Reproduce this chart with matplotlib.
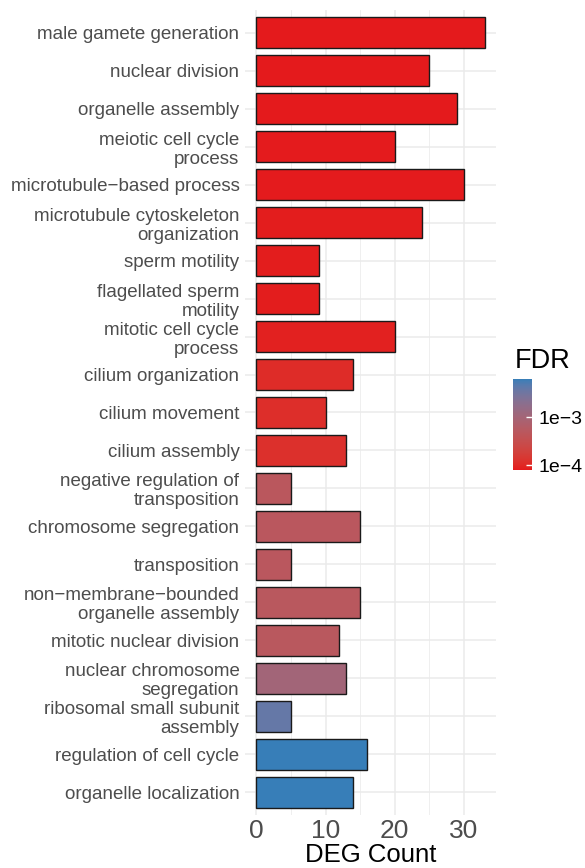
import numpy as np
import matplotlib
matplotlib.use("Agg")
import matplotlib.pyplot as plt
from matplotlib.colors import ListedColormap, LogNorm
import matplotlib.ticker as mticker

plt.rcParams['font.family'] = ['Liberation Sans', 'DejaVu Sans']

terms = [
    "male gamete generation",
    "nuclear division",
    "organelle assembly",
    "meiotic cell cycle\nprocess",
    "microtubule\u2212based process",
    "microtubule cytoskeleton\norganization",
    "sperm motility",
    "flagellated sperm\nmotility",
    "mitotic cell cycle\nprocess",
    "cilium organization",
    "cilium movement",
    "cilium assembly",
    "negative regulation of\ntransposition",
    "chromosome segregation",
    "transposition",
    "non\u2212membrane\u2212bounded\norganelle assembly",
    "mitotic nuclear division",
    "nuclear chromosome\nsegregation",
    "ribosomal small subunit\nassembly",
    "regulation of cell cycle",
    "organelle localization",
]
counts = [33, 25, 29, 20, 30, 24, 9, 9, 20, 14, 10, 13, 5, 15, 5, 15, 12, 13, 5, 16, 14]
fdr = [8.0e-5, 8.0e-5, 8.1e-5, 8.2e-5, 8.2e-5, 8.3e-5, 8.3e-5, 8.4e-5, 9.0e-5,
       1.1e-4, 1.15e-4, 1.2e-4, 4.8e-4, 4.9e-4, 4.9e-4, 5.0e-4, 5.0e-4,
       1.05e-3, 3.8e-3, 6.1e-3, 6.2e-3]

low_col = "#E41A1C"
high_col = "#377EB8"

# ---- Lab interpolation (like scales::seq_gradient_pal) ----
def hex2rgb(h):
    h = h.lstrip('#')
    return np.array([int(h[i:i+2], 16) / 255 for i in (0, 2, 4)])

def srgb2lin(c):
    return np.where(c <= 0.04045, c / 12.92, ((c + 0.055) / 1.055) ** 2.4)

def lin2srgb(c):
    c = np.clip(c, 0, 1)
    return np.where(c <= 0.0031308, 12.92 * c, 1.055 * c ** (1 / 2.4) - 0.055)

M = np.array([[0.4124, 0.3576, 0.1805], [0.2126, 0.7152, 0.0722], [0.0193, 0.1192, 0.9505]])
Minv = np.linalg.inv(M)
wp = np.array([0.95047, 1.0, 1.08883])

def f(t):
    d = 6 / 29
    return np.where(t > d ** 3, np.cbrt(t), t / (3 * d * d) + 4 / 29)

def finv(t):
    d = 6 / 29
    return np.where(t > d, t ** 3, 3 * d * d * (t - 4 / 29))

def rgb2lab(rgb):
    xyz = M @ srgb2lin(rgb) / wp
    fx, fy, fz = f(xyz)
    return np.array([116 * fy - 16, 500 * (fx - fy), 200 * (fy - fz)])

def lab2rgb(lab):
    L, a, b = lab
    fy = (L + 16) / 116
    fx = fy + a / 500
    fz = fy - b / 200
    xyz = np.array([finv(fx), finv(fy), finv(fz)]) * wp
    return lin2srgb(Minv @ xyz)

lab_lo = rgb2lab(hex2rgb(low_col))
lab_hi = rgb2lab(hex2rgb(high_col))
cols = [lab2rgb(lab_lo + (lab_hi - lab_lo) * t) for t in np.linspace(0, 1, 256)]
cmap = ListedColormap(cols)

fig = plt.figure(figsize=(5.85, 8.68), dpi=100)
W, H = 585, 868
ax = fig.add_axes([245 / W, (H - 815) / H, (496 - 245) / W, (815 - 10) / H])

norm = LogNorm(vmin=min(fdr), vmax=max(fdr))
y = np.arange(len(terms))
ax.barh(y, counts, height=0.82, color=cmap(norm(fdr)), edgecolor="#1a1a1a",
        linewidth=1.0, zorder=3)

n = len(terms)
ax.set_ylim(n - 1 + 0.6, -0.6)
ax.set_xlim(-1.65, 34.65)
ax.set_yticks(y)
ax.set_yticklabels(terms, fontsize=13.5, color="#4D4D4D", linespacing=1.15)
ax.set_xticks([0, 10, 20, 30])
ax.set_xticks([5, 15, 25], minor=True)
ax.tick_params(axis='x', labelsize=19, colors="#4D4D4D", length=0, pad=3)
ax.tick_params(axis='y', length=0, pad=4)
ax.tick_params(axis='x', which='minor', length=0)
ax.grid(True, which='major', color="#EBEBEB", linewidth=1.1, zorder=0)
ax.grid(True, which='minor', axis='x', color="#EBEBEB", linewidth=0.55, zorder=0)
ax.set_axisbelow(True)
for s in ax.spines.values():
    s.set_visible(False)
ax.set_xlabel("DEG Count", fontsize=18.5, color="black", labelpad=0)

# colorbar
cax = fig.add_axes([513 / W, (H - 470) / H, 19 / W, 91 / H])
sm = matplotlib.cm.ScalarMappable(norm=norm, cmap=cmap)
cb = fig.colorbar(sm, cax=cax)
cb.outline.set_visible(False)
cb.set_ticks([1e-4, 1e-3])
cb.set_ticklabels(["1e\u22124", "1e\u22123"])
cb.minorticks_off()
cax.tick_params(which='both', length=4, width=1, color="white", direction='in',
                labelsize=14, labelcolor="black", pad=5)
cax.yaxis.set_minor_locator(mticker.NullLocator())
fig.text(515 / W, (H - 361) / H, "FDR", fontsize=19.5, color="black", ha="left", va="center")

fig.savefig("out.png", dpi=100)
